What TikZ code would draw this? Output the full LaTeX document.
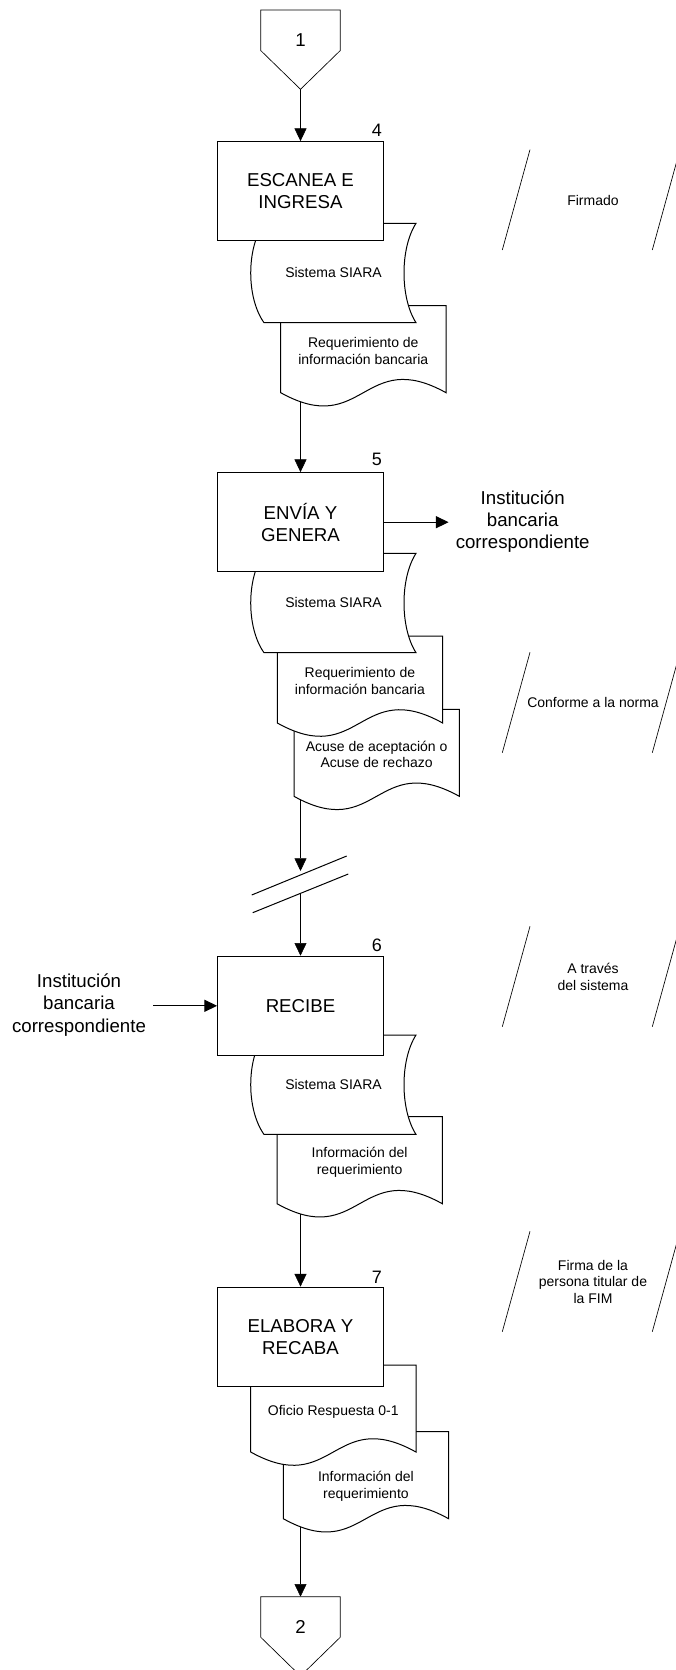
\documentclass[tikz,border=0pt]{standalone}
\usepackage{fontspec}
\setmainfont{Liberation Sans}
\usetikzlibrary{arrows.meta,backgrounds}

\tikzset{
  procbox/.style={draw, fill=white, line width=0.9pt, minimum width=124.2pt,
    minimum height=74.25pt, inner sep=0pt, align=center,
    font=\fontsize{14}{16.5}\selectfont},
  stepnum/.style={inner sep=0pt, anchor=south east, font=\fontsize{13.5}{15}\selectfont},
  smalltext/.style={inner sep=0pt, align=center, font=\fontsize{10.5}{12.5}\selectfont},
  bigtext/.style={inner sep=5pt, align=center, font=\fontsize{14}{16.75}\selectfont},
  docline/.style={draw, fill=white, line width=0.75pt},
  thinline/.style={line width=0.5pt},
}

\begin{document}
\begin{tikzpicture}[x=0.75pt, y=-0.75pt, line width=0.75pt,
    >={Triangle[length=9.5pt,width=9pt]}]

  \useasboundingbox (0,0) rectangle (675,1670);

  \newcommand\Conn[3]{%
    \draw[thinline, fill=white] (260.7,#2) -- (340.3,#2) -- (340.3,#2+40.5)
      -- (300.5,#2+79.3) -- (260.7,#2+40.5) -- cycle;
    \node[bigtext, inner sep=0pt] (#1) at (300.5,#2+30) {#3};
    \coordinate (#1-top) at (300.5,#2);
    \coordinate (#1-tip) at (300.5,#2+79.3);}
  \newcommand\Doc[5]{%
    \draw[docline] (#2,#3) -- (#2+165.3,#3) -- (#2+165.3,#3+87)
      .. controls (#2+82.6,#3+41) and (#2+82.6,#3+133) .. (#2,#3+87) -- cycle;
    \node[smalltext] (#1) at (#2+82.6,#3+#5) {#4};}
  \newcommand\Store[2]{%
    \draw[docline] (264,#2) -- (416,#2)
      .. controls (400,#2+25) and (400,#2+74.4) .. (416,#2+99.4) -- (264,#2+99.4)
      .. controls (246.3,#2+74.4) and (246.3,#2+25) .. (264,#2) -- cycle;
    \node[smalltext] (#1) at (333.5,#2+49.5) {Sistema SIARA};}
  \newcommand\Lane[3]{%
    \draw[thinline] (502.3,#2) -- (530,#2-100.4);
    \draw[thinline] (652.3,#2) -- (680,#2-100.4);
    \node[smalltext] (#1) at (593,#2-50) {#3};}

  %% step 4
  \Conn{c1}{10}{1}
  \Doc{req4}{280.7}{305.7}{Requerimiento de\\información bancaria}{45.3}
  \Store{sis4}{223.3}
  \node[procbox] (escanea) at (300.5,191.2) {ESCANEA E\\INGRESA};
  \node[stepnum] (n4) at ([shift={(-1.5,-4.4)}]escanea.north east) {4};

  %% step 5
  \Doc{acuse5}{294}{709.3}{Acuse de aceptación o\\Acuse de rechazo}{45}
  \Doc{req5}{277.3}{636}{Requerimiento de\\información bancaria}{45}
  \Store{sis5}{553.3}
  \node[procbox] (envia) at (300.5,522.2) {ENVÍA Y\\GENERA};
  \node[stepnum] (n5) at ([shift={(-1.5,-6)}]envia.north east) {5};
  \node[bigtext] (inst1) at (522.7,521.7) {Institución\\bancaria\\correspondiente};
  \draw[->] (envia.east) -- (envia.east -| inst1.west);

  % break in the flow
  \draw (251.7,895) -- (346.7,856);
  \draw (252.7,912.7) -- (348.3,874);
  \coordinate (brk1) at (300.5,871);
  \coordinate (brk2) at (300.5,893.5);

  %% step 6
  \Doc{info6}{277}{1116.7}{Información del\\requerimiento}{45.6}
  \Store{sis6}{1035}
  \node[procbox] (recibe) at (300.5,1005.8) {RECIBE};
  \node[stepnum] (n6) at ([shift={(-1.5,-4)}]recibe.north east) {6};
  \node[bigtext] (inst2) at (79,1005) {Institución\\bancaria\\correspondiente};
  \draw[->] (inst2.east |- recibe.west) -- (recibe.west);

  %% step 7
  \Doc{info7}{283.3}{1431.7}{Información del\\requerimiento}{54.6}
  \Doc{oficio7}{250.7}{1365}{Oficio Respuesta 0-1}{46.7}
  \node[procbox] (elabora) at (300.5,1336.7) {ELABORA Y\\RECABA};
  \node[stepnum] (n7) at ([shift={(-1.5,-3)}]elabora.north east) {7};
  \Conn{c2}{1596.7}{2}

  %% notes on the right
  \Lane{firmado}{250}{Firmado}
  \Lane{norma}{752.7}{Conforme a la norma}
  \Lane{sistema}{1026.7}{A través\\del sistema}
  \Lane{fim}{1331.7}{Firma de la\\persona titular de\\la FIM}

  \begin{pgfonlayer}{background}
    \draw[->] (c1-tip) -- (escanea);
    \draw[->] (escanea) -- (envia);
    \draw[->] (envia) -- (brk1);
    \draw[->] (brk2) -- (recibe);
    \draw[->] (recibe) -- (elabora);
    \draw[->] (elabora) -- (c2-top);
  \end{pgfonlayer}
\end{tikzpicture}
\end{document}
